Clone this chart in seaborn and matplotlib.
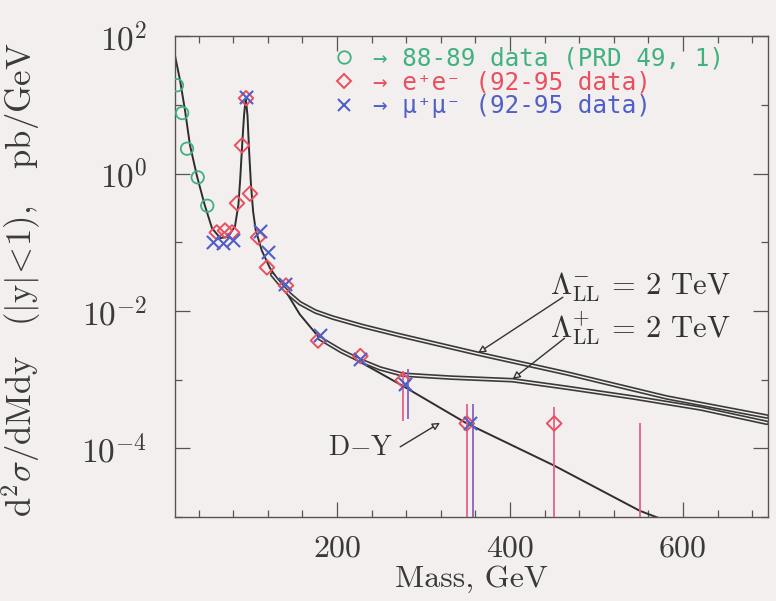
import matplotlib
matplotlib.use("Agg")
import numpy as np
import pandas as pd
import seaborn as sns
import matplotlib.pyplot as plt
import matplotlib.patheffects as pe
from matplotlib.lines import Line2D

# ---------------- data ----------------
# Drell-Yan (SM) prediction
dy_mass = [12.7, 18.5, 24.3, 30, 38, 47, 55.5, 65, 74, 82, 86, 88, 90.5, 92.5, 94.5,
           96.5, 98.5, 100.5, 103, 106, 113, 122.5, 140, 157, 180, 227, 276, 350,
           451, 550, 590]
dy_val = [52, 23, 8.3, 2.6, 0.93, 0.35, 0.16, 0.115, 0.12, 0.17, 0.35, 0.8, 2.8, 7.0,
          12.6, 7.0, 2.0, 0.7, 0.28, 0.15, 0.076, 0.042, 0.020, 0.0089, 0.0040,
          0.0018, 8.1e-4, 2.3e-4, 5.6e-5, 1.23e-5, 7.9e-6]
# Lambda_LL^- = 2 TeV
lm_mass = [125, 135, 145, 157, 175, 195, 230, 273, 362, 466, 581, 697]
lm_val = [0.034, 0.024, 0.0175, 0.0130, 0.0098, 0.0080, 0.0060, 0.0044, 0.0024,
          0.00123, 5.5e-4, 2.9e-4]
# Lambda_LL^+ = 2 TeV
lp_mass = [180, 205, 227, 250, 276, 331, 403, 466, 542, 620, 697]
lp_val = [0.0040, 0.0026, 0.0019, 0.00145, 0.00118, 0.00107, 9.8e-4, 7.6e-4, 5.5e-4,
          3.8e-4, 2.35e-4]

# 88-89 data (PRD 49, 1)
g_mass = [15, 21, 26.6, 39, 50]
g_val = [19.3, 7.6, 2.3, 0.88, 0.34]
# e+e- (92-95 data)
e_mass = [61, 70.5, 78.6, 84.4, 90.2, 94.8, 99.4, 108.7, 119, 141, 178, 227, 276, 350, 451]
e_val = [0.139, 0.148, 0.139, 0.37, 2.57, 12.5, 0.51, 0.118, 0.043, 0.0234, 0.0037,
         0.0022, 0.00098, 0.00023, 0.00023]
e_err_mass = [276, 350, 451, 550]
e_err_lo = [2.5e-4, 5e-6, 5e-6, 5e-6]
e_err_hi = [1.35e-3, 4.4e-4, 4.0e-4, 2.3e-4]
# mu+mu- (92-95 data)
m_mass = [57, 68, 80, 94.8, 111, 120, 140, 180, 227, 279, 354]
m_val = [0.10, 0.096, 0.107, 12.9, 0.148, 0.071, 0.025, 0.0044, 0.0020, 0.00087, 0.00023]
m_err_mass = [279, 354]
m_err_lo = [2.7e-4, 5e-6]
m_err_hi = [1.45e-3, 4.4e-4]

x_ticks = [200, 400, 600]
x_tick_labels = ["200", "400", "600"]
y_ticks = [1e-4, 1e-2, 1e0, 1e2]
y_tick_labels = [r"$10^{-4}$", r"$10^{-2}$", r"$10^{0}$", r"$10^{2}$"]
legend_labels = ["\u2192 88-89 data (PRD 49, 1)",
                 "\u2192 e\u207ae\u207b (92-95 data)",
                 "\u2192 \u03bc\u207a\u03bc\u207b (92-95 data)"]

# ---------------- style ----------------
BG = "#f3efee"
INK = "#2e2e2e"
GREEN = "#3fb27f"
RED = "#e8505f"
BLUE = "#4f5fc8"

sns.set_theme(style="ticks")
plt.rcParams["font.family"] = ["cmr10", "DejaVu Serif"]
plt.rcParams["mathtext.fontset"] = "cm"
plt.rcParams["axes.unicode_minus"] = False
plt.rcParams["axes.formatter.use_mathtext"] = True

fig = plt.figure(figsize=(7.76, 6.01), dpi=100, facecolor=BG)
ax = fig.add_axes([0.2255, 0.1398, 0.764, 0.800], facecolor=BG)

# curves
sns.lineplot(x=dy_mass, y=dy_val, ax=ax, color=INK, lw=1.4, sort=False, estimator=None)
for mx, vy in ((lm_mass, lm_val), (lp_mass, lp_val)):
    sns.lineplot(x=mx, y=vy, ax=ax, color=BG, lw=1.0, sort=False, estimator=None)
    ax.lines[-1].set_path_effects([pe.Stroke(linewidth=3.4, foreground="#3a3a3a"),
                                   pe.Normal()])

# error bars
ax.vlines(e_err_mass, e_err_lo, e_err_hi, color="#e8608a", lw=1.3, zorder=3)
ax.vlines([m + 3 for m in m_err_mass], m_err_lo, m_err_hi, color="#8a5fc0", lw=1.3, zorder=3)

# data points
sns.scatterplot(x=g_mass, y=g_val, ax=ax, marker="o", s=80, facecolor="none",
                edgecolor=GREEN, linewidth=1.3, zorder=4)
sns.scatterplot(x=e_mass, y=e_val, ax=ax, marker="D", s=55, facecolor="none",
                edgecolor=RED, linewidth=1.4, zorder=4)
sns.scatterplot(x=m_mass, y=m_val, ax=ax, marker="x", s=90, color=BLUE,
                linewidth=1.5, zorder=5)

# axes
ax.set_yscale("log")
ax.set_xlim(12.7, 698)
ax.set_ylim(1e-5, 1e2)
ax.set_xticks(x_ticks)
ax.set_xticklabels(x_tick_labels)
ax.set_xticks(np.arange(40, 700, 40), minor=True)
ax.set_yticks(y_ticks)
ax.set_yticklabels(y_tick_labels)
ax.set_yticks([1e-5, 1e-3, 1e-1, 1e1], minor=True)
ax.yaxis.set_minor_formatter(matplotlib.ticker.NullFormatter())
ax.tick_params(which="both", direction="in", top=True, right=True, colors="#555555",
               labelcolor="#3a3a3a", width=0.9)
ax.tick_params(which="major", length=11)
ax.tick_params(which="minor", length=5)
ax.tick_params(axis="x", pad=13, labelsize=23)
ax.tick_params(axis="y", pad=20, labelsize=24)
for s in ax.spines.values():
    s.set_color("#555555")
    s.set_linewidth(1.0)

ax.set_xlabel("Mass, GeV", fontsize=23, color="#3a3a3a", labelpad=2)
ax.set_ylabel("")
fig.text(0.027, 0.535,
         r"$\mathrm{d}^2\sigma/\mathrm{dMdy}\quad(|\mathrm{y}|\!<\!1),\quad\mathrm{pb/GeV}$",
         rotation=90, ha="center", va="center", fontsize=25, color="#3a3a3a")

# legend
handles = [
    Line2D([], [], ls="none", marker="o", ms=9, mfc="none", mec=GREEN, mew=1.3),
    Line2D([], [], ls="none", marker="D", ms=7, mfc="none", mec=RED, mew=1.4),
    Line2D([], [], ls="none", marker="x", ms=9, color=BLUE, mew=1.5),
]
leg = ax.legend(handles, legend_labels, loc="upper left", bbox_to_anchor=(0.228, 1.025),
                frameon=False, handletextpad=0.7, labelspacing=0.0,
                prop={"family": "DejaVu Sans Mono", "size": 17.5}, handlelength=1.0)
for t, c in zip(leg.get_texts(), [GREEN, RED, BLUE]):
    t.set_color(c)

# annotations
ax.text(446, 0.022, r"$\Lambda^{-}_{\rm LL}$ = 2 TeV", fontsize=22, color="#333333",
        ha="left", va="center")
ax.text(446, 0.0057, r"$\Lambda^{+}_{\rm LL}$ = 2 TeV", fontsize=22, color="#333333",
        ha="left", va="center")
ax.text(190, 1.0e-4, r"D$-$Y", fontsize=20, color="#333333", ha="left", va="center")
arrow = dict(arrowstyle="-|>", color="#333333", lw=1.0, mutation_scale=11,
             shrinkA=0, shrinkB=0, fc=BG)
ax.annotate("", xy=(363, 2.45e-3), xytext=(461, 1.58e-2), arrowprops=arrow)
ax.annotate("", xy=(403, 1.02e-3), xytext=(463, 4.0e-3), arrowprops=arrow)
ax.annotate("", xy=(319, 2.35e-4), xytext=(273, 1.05e-4), arrowprops=arrow)

fig.savefig("out.png", dpi=100, facecolor=BG)
